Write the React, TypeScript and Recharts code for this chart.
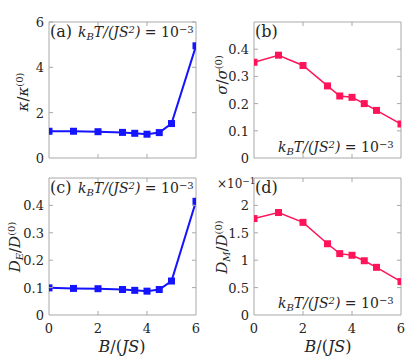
import React from "react"
import { LineChart, Line, XAxis, YAxis, ReferenceArea } from "recharts"

const B = [0, 1, 2, 3, 3.5, 4, 4.5, 5, 6]
const kappa = [1.18, 1.18, 1.16, 1.13, 1.09, 1.05, 1.12, 1.52, 4.95]
const sigma = [0.352, 0.378, 0.34, 0.265, 0.228, 0.223, 0.2, 0.175, 0.125]
const dE = [0.099, 0.097, 0.096, 0.093, 0.09, 0.087, 0.093, 0.124, 0.415]
const dM = [1.76, 1.87, 1.69, 1.3, 1.12, 1.09, 0.99, 0.87, 0.61]

const xTicks = [0, 2, 4, 6]
const kappaTicks = [0, 2, 4, 6]
const sigmaTicks = [0, 0.1, 0.2, 0.3, 0.4]
const dETicks = [0, 0.1, 0.2, 0.3, 0.4]
const dMTicks = [0, 0.5, 1, 1.5, 2]

const BLUE = "#1414ff"
const PINK = "#ff1459"
const BOX = "#a8a8a8"
const TXT = "#262626"
const FONT = "'DejaVu Serif', serif"

const ML = 40
const MT = 12

interface PanelProps {
  values: number[]
  color: string
  yMax: number
  yTicks: number[]
  left: number
  top: number
  w: number
  h: number
  showX: boolean
  lineWidth: number
}

function Panel({ values, color, yMax, yTicks, left, top, w, h, showX, lineWidth }: PanelProps) {
  const data = B.map((b, i) => ({ b, v: values[i] }))

  const xTick = (p: any) => {
    const { x, y, payload } = p
    const edge = payload.value === 0 || payload.value === 6
    return (
      <g>
        {!edge && <line x1={x} x2={x} y1={y} y2={y - 4} stroke={BOX} />}
        {!edge && <line x1={x} x2={x} y1={y - h} y2={y - h + 4} stroke={BOX} />}
        {showX && (
          <text x={x} y={y + 18} textAnchor="middle" fontSize={13} fill={TXT} style={{ fontFamily: FONT }}>
            {payload.value}
          </text>
        )}
      </g>
    )
  }

  const yTick = (p: any) => {
    const { x, y, payload } = p
    const edge = payload.value === 0
    return (
      <g>
        {!edge && <line x1={x} x2={x + 4} y1={y} y2={y} stroke={BOX} />}
        {!edge && <line x1={x + w} x2={x + w - 4} y1={y} y2={y} stroke={BOX} />}
        <text x={x - 5} y={y + 5} textAnchor="end" fontSize={13} fill={TXT} style={{ fontFamily: FONT }}>
          {payload.value}
        </text>
      </g>
    )
  }

  return (
    <div style={{ position: "absolute", left: left - ML, top: top - MT }}>
      <LineChart
        width={ML + w + 8}
        height={MT + h + 24}
        data={data}
        margin={{ top: MT, right: 8, bottom: 0, left: 0 }}
        style={{ fontFamily: FONT }}
      >
        <XAxis
          dataKey="b"
          type="number"
          domain={[0, 6]}
          ticks={xTicks}
          allowDataOverflow
          axisLine={false}
          tickLine={false}
          tickSize={0}
          tickMargin={0}
          height={24}
          tick={xTick}
          interval={0}
        />
        <YAxis
          type="number"
          domain={[0, yMax]}
          ticks={yTicks}
          allowDataOverflow
          axisLine={false}
          tickLine={false}
          tickSize={0}
          tickMargin={0}
          width={ML}
          tick={yTick}
          interval={0}
        />
        <ReferenceArea x1={0} x2={6} y1={0} y2={yMax} fill="none" stroke={BOX} strokeWidth={1} ifOverflow="visible" />
        <Line
          type="linear"
          dataKey="v"
          stroke={color}
          strokeWidth={lineWidth}
          isAnimationActive={false}
          activeDot={false}
          dot={(p: any) => (
            <rect key={p.index} x={p.cx - 3.5} y={p.cy - 3.5} width={7} height={7} fill={color} />
          )}
        />
      </LineChart>
    </div>
  )
}

const abs = (x: number, y: number, extra: React.CSSProperties = {}): React.CSSProperties => ({
  position: "absolute",
  left: x,
  top: y,
  whiteSpace: "nowrap",
  lineHeight: 1,
  color: TXT,
  ...extra,
})

const sup: React.CSSProperties = { fontSize: 10, verticalAlign: "0.45em", lineHeight: 0 }
const sub: React.CSSProperties = { fontSize: 10, verticalAlign: "-0.3em", lineHeight: 0 }

function Temp() {
  return (
    <span style={{ fontStyle: "italic", fontSize: 14 }}>
      k<span style={sub}>B</span>T/(JS<span style={sup}>2</span>)
      <span style={{ fontStyle: "normal" }}> = 10<span style={sup}>−3</span></span>
    </span>
  )
}

const rot = (cx: number, cy: number): React.CSSProperties => ({
  position: "absolute",
  left: cx,
  top: cy,
  transform: "translate(-50%, -50%) rotate(-90deg)",
  whiteSpace: "nowrap",
  fontSize: 15,
  lineHeight: 1,
  color: TXT,
})

export default function App() {
  return (
    <div
      style={{
        position: "absolute",
        left: 0,
        top: 0,
        width: 415,
        height: 356,
        background: "#fff",
        fontFamily: FONT,
        fontSize: 15,
      }}
    >
      <Panel values={kappa} color={BLUE} yMax={6} yTicks={kappaTicks} left={49} top={22} w={147} h={136} showX={false} lineWidth={2} />
      <Panel values={sigma} color={PINK} yMax={0.5} yTicks={sigmaTicks} left={254} top={22} w={147} h={136} showX={false} lineWidth={1.5} />
      <Panel values={dE} color={BLUE} yMax={0.5} yTicks={dETicks} left={49} top={178} w={147} h={137} showX={true} lineWidth={2} />
      <Panel values={dM} color={PINK} yMax={2.5} yTicks={dMTicks} left={254} top={178} w={147} h={137} showX={true} lineWidth={1.5} />

      <div style={abs(50, 24, { fontSize: 16 })}>(a)</div>
      <div style={abs(78, 25)}><Temp /></div>
      <div style={abs(255, 24, { fontSize: 16 })}>(b)</div>
      <div style={abs(278, 140)}><Temp /></div>
      <div style={abs(50, 180, { fontSize: 16 })}>(c)</div>
      <div style={abs(78, 181)}><Temp /></div>
      <div style={abs(255, 180, { fontSize: 16 })}>(d)</div>
      <div style={abs(217, 178, { fontSize: 12 })}>
        ×10<span style={{ fontSize: 9, verticalAlign: "0.5em", lineHeight: 0 }}>−1</span>
      </div>
      <div style={abs(278, 296)}><Temp /></div>

      <div style={rot(23, 92)}>
        <i>κ</i>/<i>κ</i><span style={sup}>(0)</span>
      </div>
      <div style={rot(222, 75)}>
        <i>σ</i>/<i>σ</i><span style={sup}>(0)</span>
      </div>
      <div style={rot(15, 247)}>
        <i>D</i><span style={sub}><i>E</i></span>/<i>D</i><span style={sup}>(0)</span>
      </div>
      <div style={rot(222, 247)}>
        <i>D</i><span style={sub}><i>M</i></span>/<i>D</i><span style={sup}>(0)</span>
      </div>

      <div style={abs(122, 339, { fontSize: 16, transform: "translateX(-50%)" })}>
        <i>B</i>/(<i>JS</i>)
      </div>
      <div style={abs(328, 339, { fontSize: 16, transform: "translateX(-50%)" })}>
        <i>B</i>/(<i>JS</i>)
      </div>
    </div>
  )
}
